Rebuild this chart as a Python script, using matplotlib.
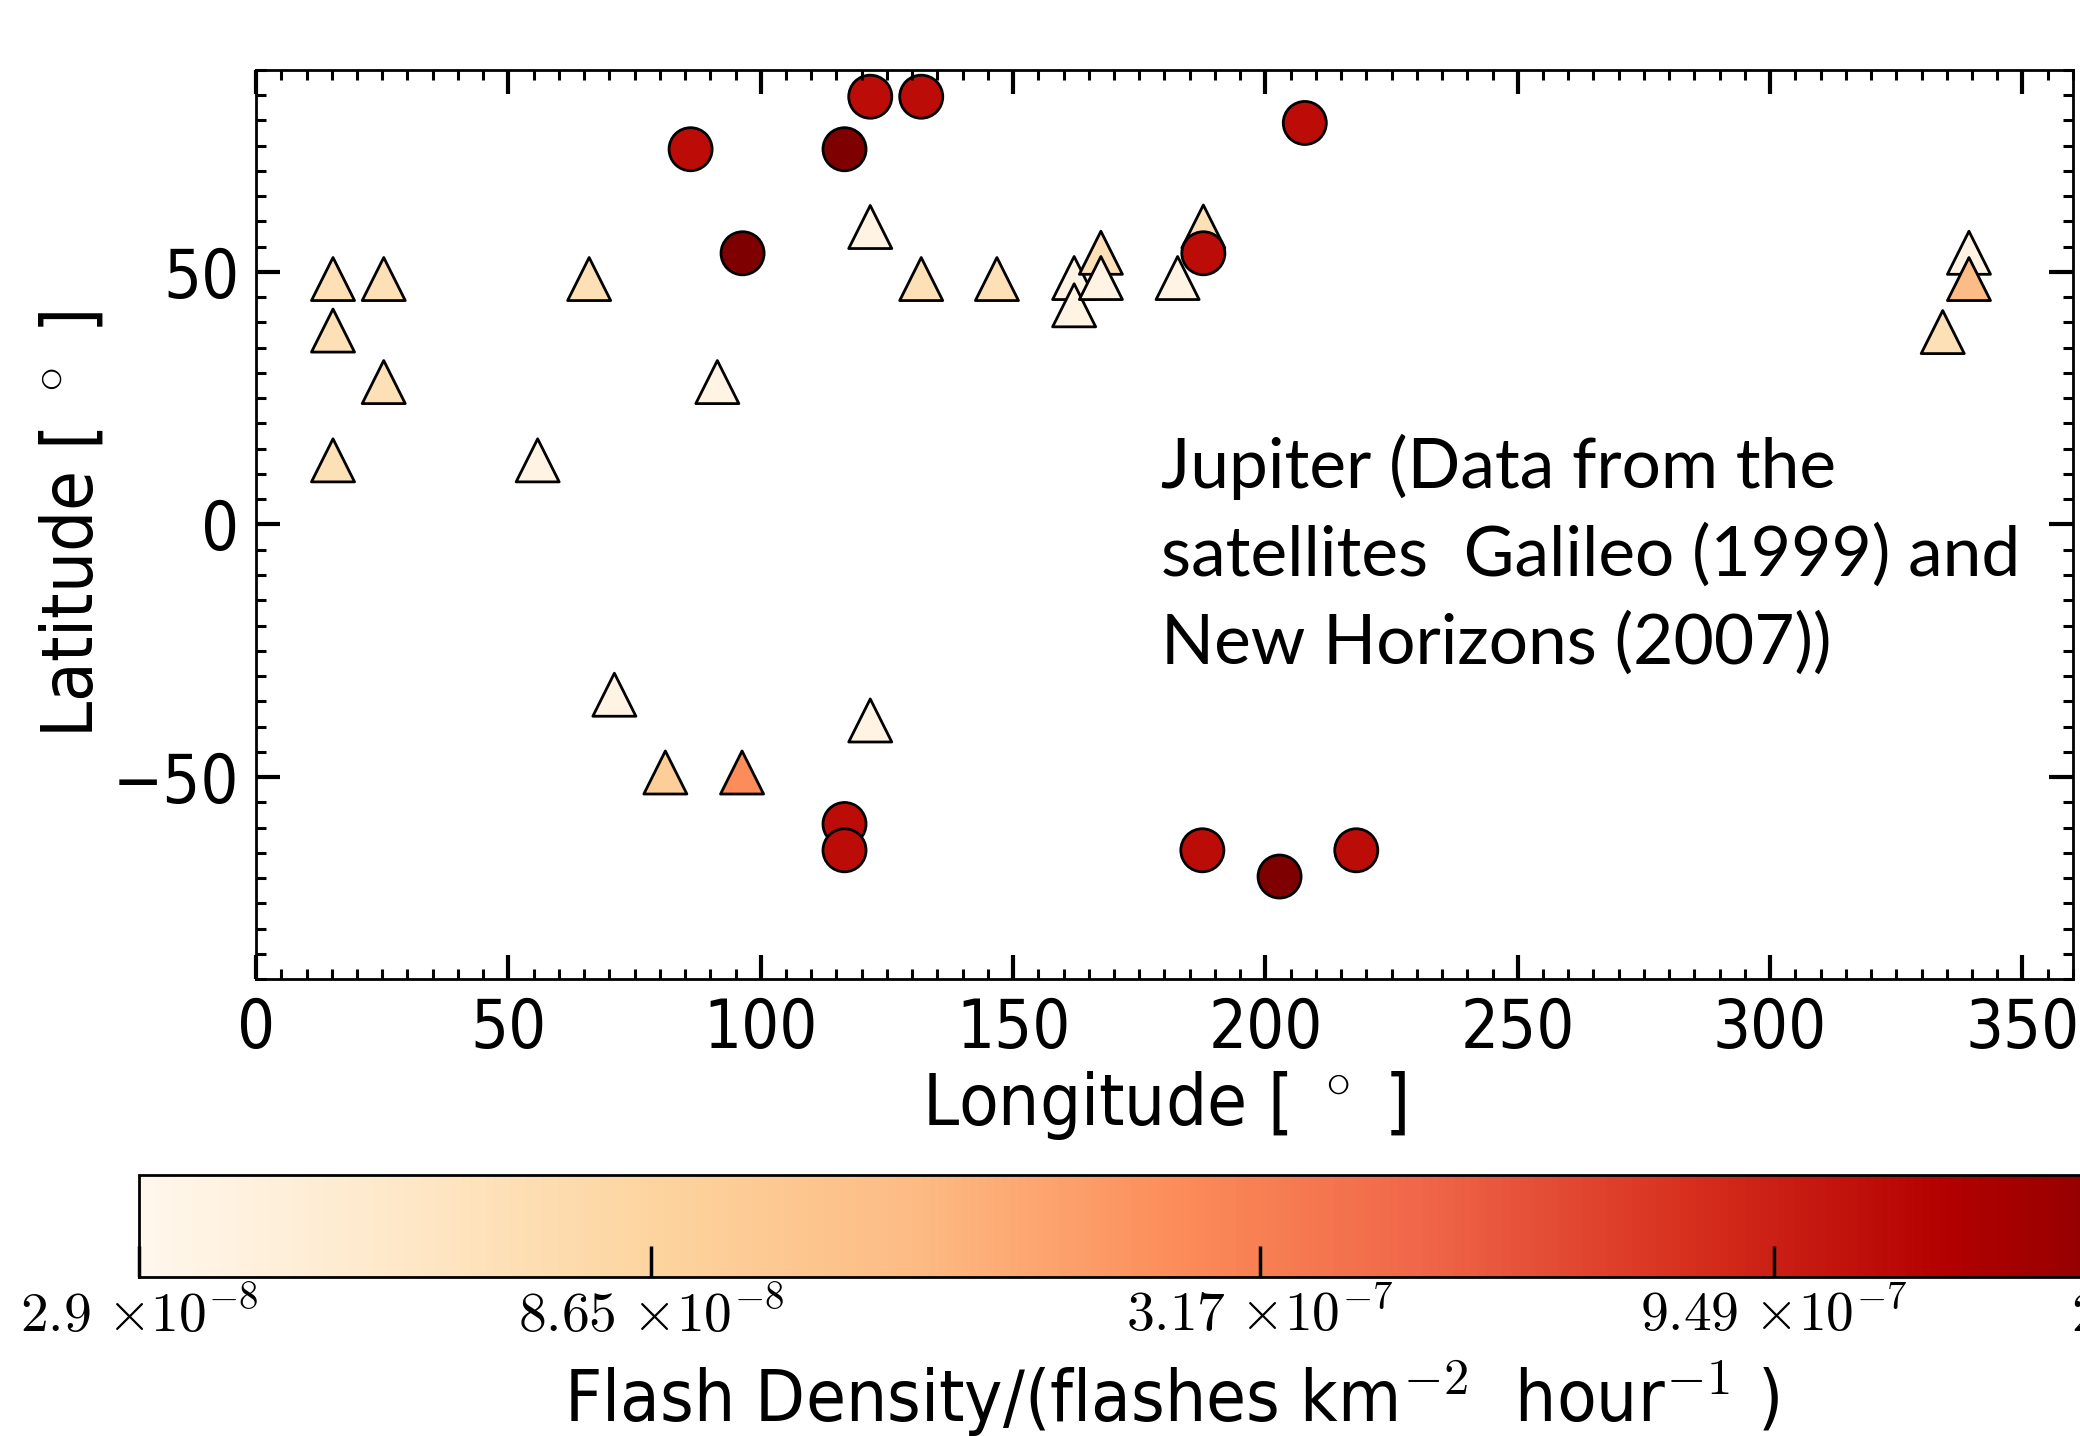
import numpy as np
import matplotlib
matplotlib.use('Agg')
import matplotlib.pyplot as plt
from matplotlib.colors import LogNorm
from matplotlib.ticker import MultipleLocator
from matplotlib import font_manager as fm

# flashes seen as triangles
tri_lon = [15.25, 15.25, 15.25, 25.3, 25.3, 55.8, 66.0, 71.0, 81.1, 91.4, 96.3, 121.7,
           121.7, 131.8, 146.8, 162.1, 162.1, 167.4, 167.4, 182.6, 187.7, 334.2, 339.4, 339.4]
tri_lat = [48.6, 38.4, 12.7, 48.6, 28.2, 12.7, 48.6, -33.7, -49.1, 28.2, -49.1, 58.9,
           -38.8, 48.6, 48.6, 48.8, 43.4, 53.8, 48.8, 48.8, 59.0, 38.1, 53.8, 48.6]
tri_flash = [6.4e-8, 6.4e-8, 6.4e-8, 6.4e-8, 6.4e-8, 3.3e-8, 6.4e-8, 3.3e-8, 1.0e-7, 3.3e-8, 2.64e-7, 3.3e-8,
             3.3e-8, 6.4e-8, 6.4e-8, 3.3e-8, 3.3e-8, 6.4e-8, 3.3e-8, 3.3e-8, 6.4e-8, 6.4e-8, 3.3e-8, 1.5e-7]

# flashes seen as circles
circ_lon = [86.1, 116.6, 121.7, 131.8, 96.4, 187.7, 207.8, 116.6, 116.6, 187.5, 202.8, 218.0]
circ_lat = [74.3, 74.3, 84.7, 84.7, 53.7, 53.7, 79.5, -59.3, -64.5, -64.5, -69.7, -64.5]
circ_flash = [1.19e-6, 2.38e-6, 1.19e-6, 1.19e-6, 2.38e-6, 1.19e-6, 1.19e-6, 1.19e-6, 1.19e-6, 1.19e-6, 2.38e-6, 1.19e-6]

cbar_ticks = [2.9e-8, 8.65e-8, 3.17e-7, 9.49e-7, 2.38e-6]
cbar_labels = [r'$2.9\ {\times}10^{-8}$', r'$8.65\ {\times}10^{-8}$', r'$3.17\ {\times}10^{-7}$',
               r'$9.49\ {\times}10^{-7}$', r'$2.38\ {\times}10^{-6}$']

# use the condensed DejaVu face if it is there
cond = [f for f in fm.fontManager.ttflist
        if f.name.startswith('DejaVu Sans') and f.stretch == 'condensed'
        and f.style == 'normal' and f.weight in (400, 'normal')]
if cond:
    plt.rcParams['font.family'] = cond[0].name
    plt.rcParams['font.stretch'] = 'condensed'
    fs = 48
else:
    plt.rcParams['font.family'] = 'DejaVu Sans'
    fs = 44
plt.rcParams['mathtext.fontset'] = 'cm'

fig = plt.figure(figsize=(20.8, 14.36), dpi=100)
ax = fig.add_axes([0.1231, 0.3182, 0.8735, 0.6331])

norm = LogNorm(vmin=2.9e-8, vmax=2.38e-6)
ax.scatter(tri_lon, tri_lat, c=tri_flash, cmap='OrRd', norm=norm, marker='^',
           s=961, edgecolors='black', linewidths=2)
sc = ax.scatter(circ_lon, circ_lat, c=circ_flash, cmap='OrRd', norm=norm, marker='o',
                s=961, edgecolors='black', linewidths=2)

ax.set_xlim(0, 360)
ax.set_ylim(-90, 90)
ax.xaxis.set_major_locator(MultipleLocator(50))
ax.xaxis.set_minor_locator(MultipleLocator(5))
ax.yaxis.set_major_locator(MultipleLocator(50))
ax.yaxis.set_minor_locator(MultipleLocator(5))
ax.tick_params(which='both', direction='in', top=True, right=True)
ax.tick_params(which='major', length=17, width=3, labelsize=fs, pad=12)
ax.tick_params(which='minor', length=7, width=2.2)
for sp in ax.spines.values():
    sp.set_linewidth(2)

ax.set_xlabel(r'Longitude [ $^\circ$ ]', fontsize=fs + 4, labelpad=5)
ax.set_ylabel(r'Latitude [ $^\circ$ ]', fontsize=fs + 4, labelpad=4)

ax.text(0.498, 0.600, 'Jupiter (Data from the\nsatellites  Galileo (1999) and\nNew Horizons (2007))',
        transform=ax.transAxes, ha='left', va='top', fontsize=50, family='Lato',
        stretch='normal', linespacing=1.45)

cax = fig.add_axes([0.0668, 0.1107, 0.993, 0.071])
cb = fig.colorbar(sc, cax=cax, orientation='horizontal')
cb.minorticks_off()
cb.set_ticks(cbar_ticks)
cb.set_ticklabels(cbar_labels)
cb.ax.tick_params(direction='in', length=22, width=2.5, labelsize=40, pad=8)
cb.outline.set_linewidth(2)
cb.set_label(r'Flash Density/(flashes km$^{-2}\ $ hour$^{-1}\ $)', fontsize=fs + 4, labelpad=10)

fig.savefig('out.png', dpi=100)
